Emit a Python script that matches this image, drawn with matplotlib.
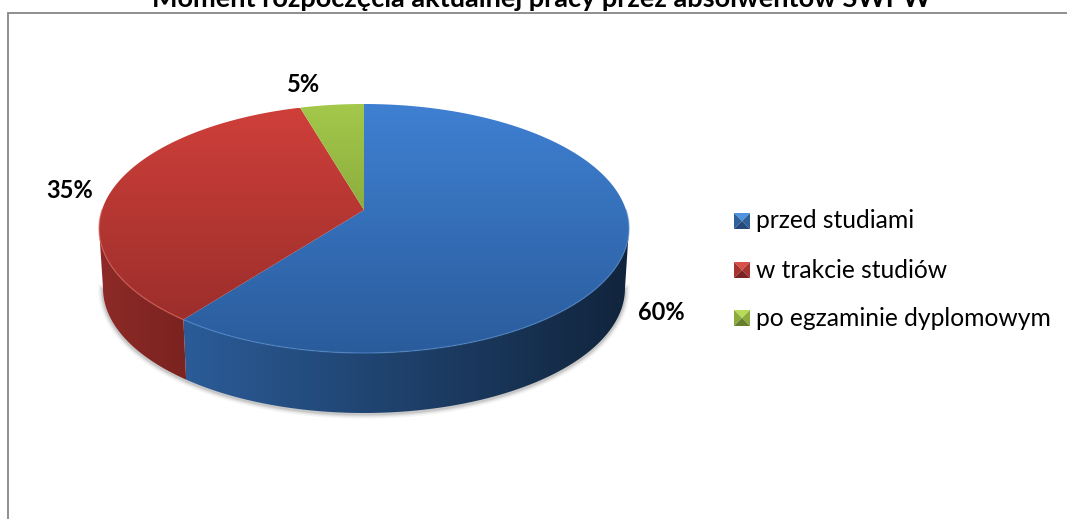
import numpy as np
import matplotlib
matplotlib.use("Agg")
import matplotlib.pyplot as plt
from matplotlib.patches import Polygon, Rectangle

# -------------------------------------------------
# DATA
# -------------------------------------------------
TITLE = "Moment rozpoczęcia aktualnej pracy przez absolwentów SWPW"
categories = ["przed studiami", "w trakcie studiów", "po egzaminie dyplomowym"]
values = [60.4, 35.1, 4.5]
pct_labels = ["60%", "35%", "5%"]

# -------------------------------------------------
# STYLE
# -------------------------------------------------
plt.rcParams["font.family"] = ["Lato", "DejaVu Sans"]

top_colors = [("#3f80d2", "#2a5c9c"), ("#cf3f3a", "#9c2e2b"), ("#a3c84a", "#8cae3e")]
side_colors = [("#2b5c98", "#11243c"), ("#8e2a27", "#7a2320"), ("#8cae3e", "#6f8c30")]
legend_colors = [("#4f94e0", "#2f6098", "#24497a"), ("#d9504b", "#a8322f", "#7a2523"),
                 ("#b8dc58", "#8bab3c", "#677f2c")]
label_pos = [(661, 313), (70, 191), (303, 85)]
legend_y = [221, 270, 318]

# pie geometry in pixels, perspective projection of a circle
HUB_X, HUB_Y = 364, 210
A, B, K = 262, 121.75, 0.1486
DEPTH, SHRINK = 60, 0.985
SIDE_START, SIDE_END = 98.5, 261.5


def project(theta, lower=False):
    # theta in degrees, clockwise from the top of the pie
    t = np.radians(theta)
    u, w = np.sin(t), -np.cos(t)
    d = 1 - K * w
    x = A * u / d
    y = B * w / d
    if lower:
        return np.column_stack([HUB_X + SHRINK * x, HUB_Y + DEPTH + y])
    return np.column_stack([HUB_X + x, HUB_Y + y])


def gradient(ax, poly, c0, c1, horizontal=False):
    x0, y0 = poly.min(axis=0)
    x1, y1 = poly.max(axis=0)
    c0 = np.array(matplotlib.colors.to_rgb(c0))
    c1 = np.array(matplotlib.colors.to_rgb(c1))
    s = np.linspace(0, 1, 256)[:, None]
    img = (c0 * (1 - s) + c1 * s)[:, None, :]
    if horizontal:
        img = img.transpose(1, 0, 2)
    # extent bottom/top swapped because the y axis runs downwards
    im = ax.imshow(img, extent=(x0, x1, y1, y0), origin="upper", aspect="auto",
                   zorder=3, interpolation="bilinear")
    patch = Polygon(poly, closed=True, fc="none", ec="none", transform=ax.transData)
    ax.add_patch(patch)
    im.set_clip_path(patch)
    return im


# -------------------------------------------------
# PLOT
# -------------------------------------------------
fig = plt.figure(figsize=(10.67, 5.19), dpi=100)
ax = fig.add_axes([0, 0, 1, 1])

# frame
ax.add_patch(Rectangle((8, 13), 1080, 600, fc="white", ec="#868686", lw=1.3, zorder=0))

bounds = np.concatenate([[0], np.cumsum(values)]) / sum(values) * 360

# soft shadow under the pie
outline = project(np.linspace(SIDE_START, SIDE_END, 200), lower=True)
for lw, alpha in zip([7, 5, 3.5, 2], [0.05, 0.07, 0.1, 0.14]):
    ax.plot(outline[:, 0], outline[:, 1] + 1, color="#555555", lw=lw, alpha=alpha, zorder=1)

# side wall
for i in range(len(values)):
    a0 = max(bounds[i], SIDE_START)
    a1 = min(bounds[i + 1], SIDE_END)
    if a1 <= a0:
        continue
    th = np.linspace(a0, a1, 200)
    poly = np.vstack([project(th), project(th[::-1], lower=True)])
    gradient(ax, poly, side_colors[i][0], side_colors[i][1], horizontal=True)

# top face
for i in range(len(values)):
    th = np.linspace(bounds[i], bounds[i + 1], 300)
    hub = np.array([[HUB_X, HUB_Y]])
    poly = np.vstack([hub, project(th)])
    gradient(ax, poly, top_colors[i][0], top_colors[i][1])

# light rim on the front edge
rim_colors = ["#4f86c8", "#d8605a", "#b5d465"]
for i in range(len(values)):
    a0 = max(bounds[i], 90)
    a1 = min(bounds[i + 1], 270)
    if a1 <= a0:
        continue
    rim = project(np.linspace(a0, a1, 200))
    ax.plot(rim[:, 0], rim[:, 1], color=rim_colors[i], lw=1.0, alpha=0.6, zorder=4)

# labels
ax.text(542, -1, TITLE, ha="center", va="center", fontsize=19.5, fontweight="bold", color="black", zorder=6)
for pos, txt in zip(label_pos, pct_labels):
    ax.text(pos[0], pos[1], txt, ha="center", va="center", fontsize=17, fontweight="bold", color="black", zorder=6)

# legend
for y, name, cols in zip(legend_y, categories, legend_colors):
    x0, x1, y0, y1 = 734, 750, y - 8, y + 8
    mid = ((x0 + x1) / 2, y)
    ax.add_patch(Polygon([(x0, y0), (x1, y0), mid], fc=cols[0], ec="none", zorder=5))
    ax.add_patch(Polygon([(x0, y0), (x0, y1), mid], fc=cols[1], ec="none", zorder=5))
    ax.add_patch(Polygon([(x1, y0), (x1, y1), mid], fc=cols[1], ec="none", zorder=5))
    ax.add_patch(Polygon([(x0, y1), (x1, y1), mid], fc=cols[2], ec="none", zorder=5))
    ax.text(756, y, name, ha="left", va="center", fontsize=17.7, color="black", zorder=6)

ax.set_xlim(0, 1067)
ax.set_ylim(519, 0)
ax.axis("off")

fig.savefig("out.png", dpi=100)
